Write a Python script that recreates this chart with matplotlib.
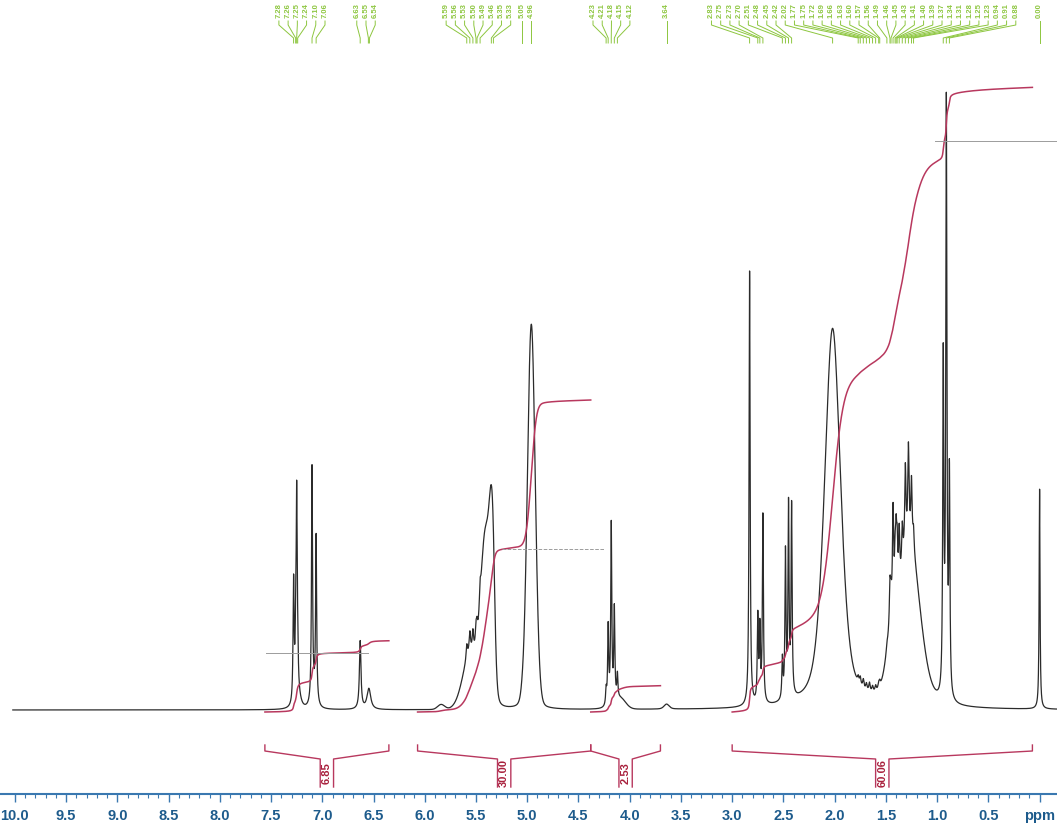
import numpy as np
import matplotlib
matplotlib.use("Agg")
import matplotlib.pyplot as plt

# picked peaks: shift (ppm), height above baseline, half width (ppm), lorentz fraction
peak_ppm = [7.28, 7.26, 7.25, 7.24, 7.10, 7.06,
            6.63, 6.55, 6.54,
            5.59, 5.56, 5.53, 5.50, 5.49, 5.46, 5.35, 5.33, 5.05, 4.96,
            4.23, 4.21, 4.18, 4.15, 4.12,
            3.64,
            2.83, 2.75, 2.73, 2.70, 2.51, 2.48, 2.45, 2.42, 2.02,
            1.77, 1.75, 1.72, 1.69, 1.66, 1.63, 1.60, 1.57, 1.56,
            1.49, 1.46, 1.45, 1.43, 1.41, 1.40, 1.39, 1.37, 1.34, 1.31, 1.28, 1.25, 1.23,
            0.94, 0.91, 0.88,
            0.00]
peak_height = [120, 40, 195, 30, 235, 165,
               68, 12, 10,
               15, 20, 20, 18, 15, 20, 140, 50, 4, 385,
               15, 78, 180, 92, 24,
               5,
               435, 85, 72, 188, 40, 145, 190, 190, 380,
               6, 8, 9, 7, 9, 6, 6, 5, 5,
               5, 40, 20, 100, 40, 55, 45, 55, 40, 80, 90, 60, 20,
               330, 565, 215,
               220]
peak_hwhm = [0.006] * 6 + [0.009, 0.02, 0.02] + [0.008] * 6 + [0.03, 0.02, 0.02, 0.045] \
    + [0.006] * 5 + [0.03] + [0.006] * 8 + [0.093] + [0.008] * 9 + [0.007] * 13 \
    + [0.006] * 3 + [0.005]
peak_eta = [1.0] * 15 + [0.3, 0.3, 1.0, 0.1] + [1.0] * 5 + [0.5] + [1.0] * 8 + [0.5] \
    + [1.0] * 9 + [1.0] * 13 + [1.0] * 3 + [1.0]

# broad unresolved components under the multiplets
hump_ppm = [7.24, 7.08, 5.84, 5.55, 5.41, 4.09, 1.45, 1.27, 0.91]
hump_height = [12, 8, 5, 55, 155, 10, 40, 165, 25]
hump_hwhm = [0.03, 0.03, 0.04, 0.09, 0.05, 0.06, 0.06, 0.12, 0.02]
hump_eta = [0.5, 0.5, 0.0, 0.0, 0.0, 0.0, 0.3, 0.3, 0.0]

# integration regions (from, to) and their values
int_ranges = [(7.56, 6.35), (6.07, 4.38), (4.38, 3.70), (3.00, 0.07)]
int_values = [6.85, 30.00, 2.53, 60.06]

tick_ppm = np.arange(0, 10.01, 0.5)
tick_text = ["ppm" if t == 0 else "%.1f" % t for t in tick_ppm]

GREEN = "#8dc63f"
RED = "#b8385e"
BLUE = "#3a78b0"


def pv(x, x0, h, w, eta):
    d = ((x - x0) / w) ** 2
    return h * (eta / (1 + d) + (1 - eta) * np.exp(-np.log(2) * d))


ppm = np.linspace(10.4, -0.4, 40000)
spec = np.zeros_like(ppm)
for p, h, w, e in zip(peak_ppm, peak_height, peak_hwhm, peak_eta):
    spec += pv(ppm, p, h, w, e)
for p, h, w, e in zip(hump_ppm, hump_height, hump_hwhm, hump_eta):
    spec += pv(ppm, p, h, w, e)

fig = plt.figure(figsize=(10.57, 8.30), dpi=100)
ax = fig.add_axes([0, 1 - 794 / 830, 1, 794 / 830])
ax.set_xlim(10.145, -0.17)
ax.set_ylim(-84, 710)

ax.plot(ppm[ppm < 10.02], spec[ppm < 10.02], color="#2b2b2b", lw=0.9)

# integral curves, 10.4 units of height per integral unit
int_scale = 10.4
curves = []
for (a, b), val in zip(int_ranges, int_values):
    m = (ppm <= a) & (ppm >= b)
    cum = np.cumsum(spec[m])
    cum = cum / cum[-1] * val * int_scale - 2
    curves.append((ppm[m], cum))
    ax.plot(ppm[m], cum, color=RED, lw=1.1)

# split markers on the integrals
for seg, at, x0, x1, ls in [(0, 6.9, 7.55, 6.55, "-"), (1, 5.2, 5.25, 4.25, "--"),
                            (3, 0.93, 1.02, -0.17, "-")]:
    xs, ys = curves[seg]
    lvl = np.interp(-at, -xs, ys)
    ax.plot([x0, x1], [lvl, lvl], color="#9c9c9c", lw=0.7, ls=ls)

# integration brackets with values
for (a, b), val in zip(int_ranges, int_values):
    mid = (a + b) / 2
    half = 0.065
    ax.plot([a, a, mid + half, mid + half], [-35, -41, -49, -77], color=RED, lw=1)
    ax.plot([b, b, mid - half, mid - half], [-35, -41, -49, -77], color=RED, lw=1)
    ax.text(mid, -63, "%.2f" % val, rotation=90, ha="center", va="center",
            fontsize=8, fontweight="bold", color="#a8203c", family="Liberation Sans")


# spread the peak labels so they don't overlap
def spread(pos, gap):
    groups = [[p] for p in pos]
    changed = True
    while changed:
        changed = False
        out = []
        for g in groups:
            if out:
                prev = out[-1]
                lo = np.mean(prev) - (len(prev) - 1) * gap / 2
                hi = np.mean(g) + (len(g) - 1) * gap / 2
                if lo - hi < gap:
                    out[-1] = prev + g
                    changed = True
                    continue
            out.append(g)
        groups = out
    res = []
    for g in groups:
        c = np.mean(g)
        n = len(g)
        res += [c + ((n - 1) / 2 - i) * gap for i in range(n)]
    return res


label_x = spread(peak_ppm, 0.09)
for p, lx in zip(peak_ppm, label_x):
    ax.text(lx, 707, "%.2f" % p, rotation=90, ha="center", va="top",
            fontsize=5.5, fontweight="bold", color=GREEN, family="Liberation Sans")
    ax.plot([lx, lx, p, p], [689, 685, 672, 667], color=GREEN, lw=0.7)

for s in ["top", "left", "right"]:
    ax.spines[s].set_visible(False)
ax.spines["bottom"].set_color(BLUE)
ax.spines["bottom"].set_linewidth(1.5)
ax.set_yticks([])
ax.set_xticks(tick_ppm)
ax.set_xticklabels(tick_text)
ax.set_xticks(np.arange(0, 10.01, 0.1), minor=True)
ax.tick_params(axis="x", which="major", direction="out", length=6, width=1,
               color=BLUE, pad=5, labelsize=10.5, labelcolor="#1d5b8c")
ax.tick_params(axis="x", which="minor", direction="out", length=3, width=0.8, color=BLUE)
for t in ax.get_xticklabels():
    t.set_fontweight("bold")
    t.set_family("Liberation Sans")

fig.savefig("out.png", dpi=100)
